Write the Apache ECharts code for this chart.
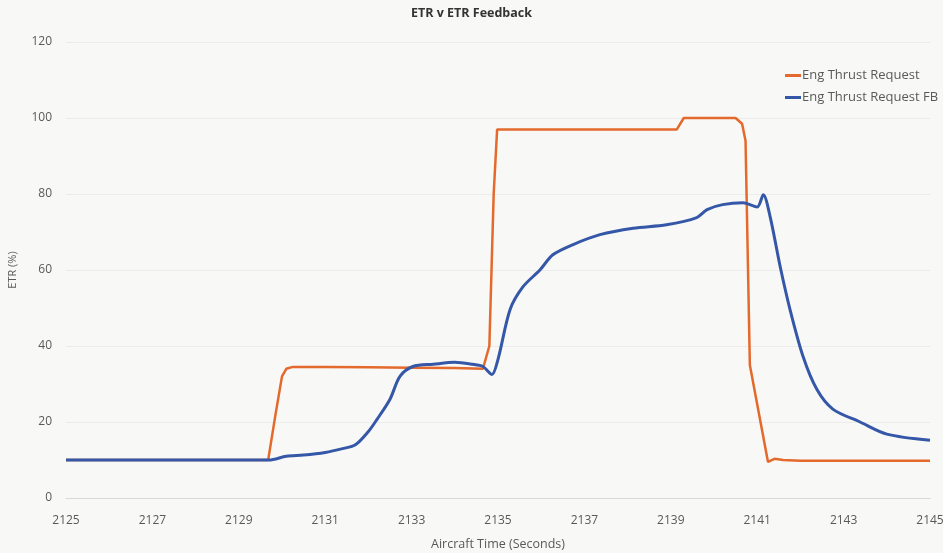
<!DOCTYPE html>
<html>
<head>
<meta charset="utf-8">
<script src="https://cdn.jsdelivr.net/npm/echarts@6/dist/echarts.min.js"></script>
<style>
  html, body { margin: 0; padding: 0; background: #f8f8f6; }
  #chart { width: 943px; height: 553px; }
</style>
</head>
<body>
<div id="chart"></div>
<script>
// Eng Thrust Request (orange) - [time, %]
var etrTime = [2125, 2126, 2127, 2128, 2129, 2129.68, 2129.85, 2130.0, 2130.1, 2130.25, 2131, 2132, 2133, 2134, 2134.65, 2134.8, 2134.9, 2134.98, 2135.2, 2136, 2137, 2138, 2139.14, 2139.3, 2140, 2140.5, 2140.65, 2140.73, 2140.83, 2141.25, 2141.4, 2141.6, 2142, 2143, 2144, 2145];
var etrValue = [10, 10, 10, 10, 10, 10, 22, 32, 34, 34.5, 34.5, 34.4, 34.3, 34.2, 34, 40, 80, 97, 97, 97, 97, 97, 97, 100, 100, 100, 98.5, 94, 35, 9.5, 10.3, 10, 9.8, 9.8, 9.8, 9.8];

// Eng Thrust Request FB (blue) - [time, %]
var fbTime = [2125, 2126, 2127, 2128, 2129, 2129.7, 2130.1, 2130.5, 2131, 2131.4, 2131.7, 2132.0, 2132.2, 2132.5, 2132.73, 2133.03, 2133.5, 2134.0, 2134.4, 2134.65, 2134.86, 2135.0, 2135.28, 2135.58, 2135.97, 2136.27, 2136.74, 2137.36, 2138.13, 2138.9, 2139.6, 2139.84, 2140.2, 2140.67, 2141.0, 2141.14, 2141.3, 2141.53, 2141.76, 2142.06, 2142.38, 2142.75, 2143.38, 2144.0, 2145];
var fbValue = [10, 10, 10, 10, 10, 10, 11, 11.3, 12, 13, 14, 17.5, 20.7, 26, 32, 34.6, 35.2, 35.7, 35.2, 34.6, 32.5, 36.5, 49.6, 55.6, 60, 64, 66.7, 69.3, 71, 71.9, 73.8, 75.9, 77.2, 77.7, 76.6, 79.8, 74, 61, 49.6, 37.3, 28.6, 23.4, 20, 16.8, 15.2];

var yTicks = [0, 20, 40, 60, 80, 100, 120];

function pairs(xs, ys) {
  var res = [];
  for (var i = 0; i < xs.length; i++) {
    res.push([xs[i], ys[i]]);
  }
  return res;
}

var chart = echarts.init(document.getElementById('chart'));
var fontFam = '"Open Sans", "Liberation Sans", sans-serif';

chart.setOption({
  backgroundColor: '#f8f8f6',
  animation: false,
  title: {
    text: 'ETR v ETR Feedback',
    left: 'center',
    top: 2,
    textStyle: { fontSize: 12.5, fontWeight: 'bold', color: '#333', fontFamily: fontFam }
  },
  legend: {
    orient: 'vertical',
    left: 780,
    top: 64,
    itemGap: 9,
    itemWidth: 16,
    itemHeight: 3,
    icon: 'rect',
    textStyle: { fontSize: 13, color: '#595959', fontFamily: fontFam, padding: [0, 0, 0, -4] },
    data: ['Eng Thrust Request', 'Eng Thrust Request FB']
  },
  grid: { left: 66, right: 13, top: 42, bottom: 55, outerBoundsMode: 'none' },
  xAxis: {
    type: 'value',
    min: 2125,
    max: 2145,
    interval: 1,
    name: 'Aircraft Time (Seconds)',
    nameLocation: 'middle',
    nameGap: 40,
    nameTextStyle: { fontSize: 12.5, color: '#595959', fontFamily: fontFam },
    axisLine: { show: true, lineStyle: { color: '#d9d9d9' } },
    axisTick: { show: false },
    splitLine: { show: false },
    axisLabel: {
      color: '#595959', fontSize: 12, fontFamily: fontFam, margin: 17,
      formatter: function (v) { return v % 2 === 1 ? String(v) : ''; }
    }
  },
  yAxis: {
    type: 'value',
    min: yTicks[0],
    max: yTicks[yTicks.length - 1],
    interval: 20,
    name: 'ETR (%)',
    nameLocation: 'middle',
    nameGap: 48,
    nameTextStyle: { fontSize: 11, color: '#595959', fontFamily: fontFam },
    axisLine: { show: false },
    axisTick: { show: false },
    splitLine: { lineStyle: { color: '#ececec', width: 1 } },
    axisLabel: { color: '#595959', fontSize: 12, fontFamily: fontFam, margin: 14 }
  },
  series: [
    {
      name: 'Eng Thrust Request',
      type: 'line',
      showSymbol: false,
      data: pairs(etrTime, etrValue),
      lineStyle: { width: 2.5, color: '#e4692d' },
      itemStyle: { color: '#e4692d' },
      z: 2
    },
    {
      name: 'Eng Thrust Request FB',
      type: 'line',
      showSymbol: false,
      smooth: 0.3,
      data: pairs(fbTime, fbValue),
      lineStyle: { width: 3, color: '#3557a8' },
      itemStyle: { color: '#3557a8' },
      z: 3
    }
  ]
});
</script>
</body>
</html>
